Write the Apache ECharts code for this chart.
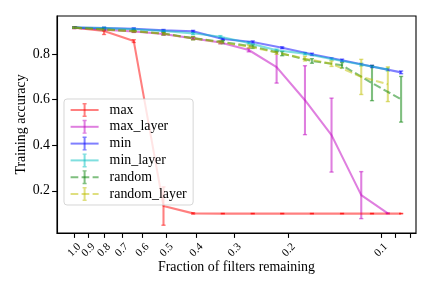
<!DOCTYPE html>
<html><head><meta charset="utf-8">
<script src="https://cdn.jsdelivr.net/npm/echarts@6/dist/echarts.min.js"></script>
<style>html,body{margin:0;padding:0;background:#fff}#c{width:432px;height:288px}</style>
</head><body><div id="c"></div>
<script>
// x positions (fraction of filters remaining)
const xFrac = [1.0, 0.8, 0.64, 0.512, 0.41, 0.328, 0.262, 0.21, 0.168, 0.134, 0.107, 0.086];
const xFracLayer = [1.0, 0.8, 0.64, 0.512, 0.41, 0.334, 0.27, 0.219, 0.177, 0.145, 0.116, 0.095];

// series values (mean) and error (std)
const maxAcc = [0.915, 0.900, 0.856, 0.133, 0.101, 0.100, 0.100, 0.100, 0.100, 0.100, 0.100, 0.100];
const maxErr = [0.004, 0.015, 0.006, 0.084, 0.003, 0.001, 0.001, 0.001, 0.001, 0.001, 0.001, 0.001];
const maxLayerAcc = [0.915, 0.906, 0.898, 0.887, 0.868, 0.850, 0.817, 0.742, 0.597, 0.444, 0.181, 0.101];
const maxLayerErr = [0.004, 0.004, 0.004, 0.005, 0.005, 0.006, 0.008, 0.070, 0.151, 0.162, 0.103, 0.002];
const minAcc = [0.915, 0.913, 0.910, 0.903, 0.899, 0.865, 0.852, 0.827, 0.798, 0.772, 0.745, 0.719];
const minErr = [0.003, 0.004, 0.004, 0.004, 0.004, 0.004, 0.005, 0.004, 0.005, 0.005, 0.005, 0.006];
const minLayerAcc = [0.915, 0.913, 0.908, 0.900, 0.890, 0.875, 0.848, 0.816, 0.801, 0.778, 0.753, 0.731];
const minLayerErr = [0.003, 0.004, 0.004, 0.004, 0.005, 0.005, 0.005, 0.005, 0.005, 0.005, 0.006, 0.006];
const randomAcc = [0.915, 0.907, 0.900, 0.889, 0.869, 0.852, 0.832, 0.801, 0.769, 0.750, 0.672, 0.601];
const randomErr = [0.003, 0.004, 0.005, 0.006, 0.007, 0.007, 0.008, 0.009, 0.010, 0.012, 0.077, 0.100];
const randomLayerAcc = [0.915, 0.906, 0.899, 0.888, 0.868, 0.851, 0.832, 0.806, 0.779, 0.757, 0.699, 0.667];
const randomLayerErr = [0.003, 0.004, 0.004, 0.005, 0.006, 0.006, 0.007, 0.008, 0.010, 0.012, 0.077, 0.076];

const seriesNames = ['max', 'max_layer', 'min', 'min_layer', 'random', 'random_layer'];
const xTickLabels = [1.0, 0.9, 0.8, 0.7, 0.6, 0.5, 0.4, 0.3, 0.2, 0.1];
const xExtraTicks = [0.09, 0.08];
const yTickLabels = [0.2, 0.4, 0.6, 0.8];

const FONT = 'Liberation Serif';
const defs = [
  {name: 'max', x: xFrac, y: maxAcc, e: maxErr, color: 'rgba(255,0,0,0.5)', dash: false},
  {name: 'max_layer', x: xFracLayer, y: maxLayerAcc, e: maxLayerErr, color: 'rgba(191,0,191,0.5)', dash: false},
  {name: 'min', x: xFrac, y: minAcc, e: minErr, color: 'rgba(0,0,255,0.5)', dash: false},
  {name: 'min_layer', x: xFracLayer, y: minLayerAcc, e: minLayerErr, color: 'rgba(0,191,191,0.5)', dash: false},
  {name: 'random', x: xFrac, y: randomAcc, e: randomErr, color: 'rgba(0,128,0,0.5)', dash: true},
  {name: 'random_layer', x: xFracLayer, y: randomLayerAcc, e: randomLayerErr, color: 'rgba(191,191,0,0.5)', dash: true}
];

const ibeam = 'path://M0,0L0.01,0L0.01,0.01Z M14,14L13.99,14L13.99,13.99Z M5,0H9V1.4H8V12.6H9V14H5V12.6H6V1.4H5Z';
const LW = 2.08;

const series = [];
defs.forEach(d => {
  series.push({
    name: d.name, type: 'line', xAxisIndex: 0,
    data: d.x.map((xv, i) => [xv, d.y[i]]),
    symbol: ibeam, showSymbol: false, symbolSize: 0,
    itemStyle: {color: d.color},
    lineStyle: {color: d.color, width: LW, type: d.dash ? [7.7, 3.3] : 'solid'},
    silent: true, animation: false
  });
  series.push({
    name: d.name + ' err', type: 'custom', xAxisIndex: 0,
    data: d.x.map((xv, i) => [xv, d.y[i], d.e[i]]),
    encode: {x: 0, y: 1},
    silent: true, animation: false,
    renderItem: (params, api) => {
      const x = api.value(0), y = api.value(1), e = api.value(2);
      const t = api.coord([x, y + e]), b = api.coord([x, y - e]);
      const cw = 2.1;
      const st = {stroke: d.color, lineWidth: LW};
      return {type: 'group', children: [
        {type: 'line', shape: {x1: t[0], y1: t[1], x2: b[0], y2: b[1]}, style: st},
        {type: 'line', shape: {x1: t[0] - cw, y1: t[1], x2: t[0] + cw, y2: t[1]}, style: {stroke: d.color, lineWidth: 1.4}},
        {type: 'line', shape: {x1: b[0] - cw, y1: b[1], x2: b[0] + cw, y2: b[1]}, style: {stroke: d.color, lineWidth: 1.4}}
      ]};
    }
  });
});

// labels split over two identical axes so that neighbouring rotated labels are never auto-hidden
const labelsA = xTickLabels.filter((v, i) => i % 2 === 0);
const labelsB = xTickLabels.filter((v, i) => i % 2 === 1);
const xLabelStyle = {rotate: 45, align: 'center', verticalAlign: 'middle', margin: 17,
  showMinLabel: true, showMaxLabel: true, hideOverlap: false,
  fontFamily: FONT, fontSize: 11, color: '#000', formatter: v => Number(v).toFixed(1)};

const chart = echarts.init(document.getElementById('c'), null, {renderer: 'canvas'});
chart.setOption({
  animation: false,
  backgroundColor: '#fff',
  grid: {left: 57, right: 16, top: 16, bottom: 55, show: true, borderColor: '#000', borderWidth: 1.1, backgroundColor: 'transparent'},
  legend: {
    data: seriesNames, orient: 'vertical', left: 64, top: 99,
    padding: [4, 6.4, 4, 5.6], itemWidth: 28, itemHeight: 17.5, itemGap: 2.8,
    backgroundColor: 'rgba(255,255,255,0.8)', borderColor: 'rgba(204,204,204,0.8)', borderWidth: 1, borderRadius: 3,
    textStyle: {fontFamily: FONT, fontSize: 13.9, color: '#000', padding: [0, 0, 0, 6]},
    selectedMode: false
  },
  xAxis: [{
    type: 'log', logBase: 10, min: 0.0769, max: 1.139, inverse: true, position: 'bottom',
    name: 'Fraction of filters remaining', nameLocation: 'middle', nameGap: 27, nameMoveOverlap: false,
    nameTextStyle: {fontFamily: FONT, fontSize: 13.9, color: '#000'},
    axisLine: {show: true, lineStyle: {color: '#000', width: 1.1}},
    axisTick: {show: true, customValues: xTickLabels.concat(xExtraTicks), length: 4.9, lineStyle: {color: '#000', width: 1.1}},
    axisLabel: Object.assign({customValues: labelsA}, xLabelStyle),
    splitLine: {show: false}, minorTick: {show: false}
  }, {
    type: 'log', logBase: 10, min: 0.0769, max: 1.139, inverse: true, position: 'bottom', offset: 0,
    axisLine: {show: false}, axisTick: {show: false},
    axisLabel: Object.assign({customValues: labelsB}, xLabelStyle),
    splitLine: {show: false}, minorTick: {show: false}
  }],
  yAxis: {
    type: 'value', min: 0.015, max: 0.966,
    name: 'Training accuracy', nameLocation: 'middle', nameGap: 29, nameRotate: 90, nameMoveOverlap: false,
    nameTextStyle: {fontFamily: FONT, fontSize: 13.9, color: '#000'},
    axisLine: {show: true, lineStyle: {color: '#000', width: 1.1}},
    axisTick: {show: true, customValues: yTickLabels, length: 4.9, lineStyle: {color: '#000', width: 1.1}},
    axisLabel: {customValues: yTickLabels, margin: 7, fontFamily: FONT, fontSize: 13.9, color: '#000', formatter: v => Number(v).toFixed(1)},
    splitLine: {show: false}
  },
  series: series
});
</script>
</body></html>
